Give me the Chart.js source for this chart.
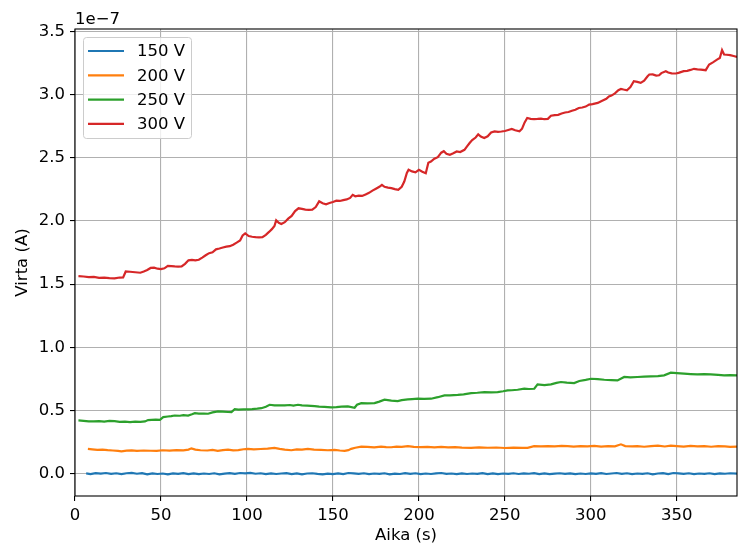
<!DOCTYPE html>
<html>
<head>
<meta charset="utf-8">
<title>Virta ajan funktiona</title>
<script src="https://cdn.jsdelivr.net/npm/chart.js@4.4.1/dist/chart.umd.min.js"></script>
<style>
  html, body { margin: 0; padding: 0; background: #fff; }
</style>
</head>
<body>
<canvas id="virta-chart" width="738" height="548"></canvas>
<script>
(function () {
  'use strict';

  // Mittaukset: aika (s) ja virta yksikössä 1e-7 A
  var aika150 = [
    6.5, 9, 12, 15, 18, 21, 24, 27, 30, 33,
    36, 39, 42, 45, 48, 51, 54, 57, 60, 63,
    66, 69, 72, 75, 78, 81, 84, 87, 90, 93,
    96, 99, 102, 105, 108, 111, 114, 117, 120, 123,
    126, 129, 132, 135, 138, 141, 144, 147, 150, 153,
    156, 159, 162, 165, 168, 171, 174, 177, 180, 183,
    186, 189, 192, 195, 198, 201, 204, 207, 210, 213,
    216, 219, 222, 225, 228, 231, 234, 237, 240, 243,
    246, 249, 252, 255, 258, 261, 264, 267, 270, 273,
    276, 279, 282, 285, 288, 291, 294, 297, 300, 303,
    306, 309, 312, 315, 318, 321, 324, 327, 330, 333,
    336, 339, 342, 345, 348, 351, 354, 357, 360, 363,
    366, 369, 372, 375, 378, 381, 385
  ];
  var virta150 = [
    0.002, -0.003, 0.004, 0.000, 0.005, -0.002, 0.003, -0.004, 0.003, 0.006,
    -0.001, 0.004, -0.005, 0.002, -0.003, 0.001, -0.006, 0.002, -0.002, 0.004,
    -0.003, 0.002, -0.004, 0.001, -0.003, 0.003, -0.005, 0.000, 0.004, -0.002,
    0.005, 0.002, 0.006, -0.001, 0.003, -0.004, 0.002, -0.003, 0.001, 0.004,
    -0.003, 0.002, -0.005, 0.001, 0.003, -0.002, -0.006, 0.000, -0.004, 0.002,
    -0.003, 0.005, 0.002, -0.002, 0.003, -0.004, 0.001, -0.002, 0.003, -0.005,
    0.000, -0.003, 0.004, -0.002, 0.003, -0.004, 0.001, -0.003, 0.002, 0.005,
    -0.002, 0.001, -0.004, 0.002, -0.003, 0.001, -0.002, 0.004, -0.003, 0.002,
    -0.004, 0.001, -0.002, 0.003, -0.003, 0.002, -0.001, 0.004, -0.003, 0.002,
    -0.004, 0.000, 0.003, -0.002, 0.002, -0.004, 0.001, -0.003, 0.002, -0.002,
    0.004, -0.003, 0.001, 0.005, -0.002, 0.003, -0.004, 0.001, -0.002, 0.003,
    -0.005, 0.001, 0.004, -0.003, 0.005, 0.002, -0.002, 0.003, -0.004, 0.001,
    -0.002, 0.003, -0.004, 0.002, -0.001, 0.003, 0.000
  ];

  var aika200 = [
    7.5, 10, 13, 16, 19, 22, 25, 27, 30, 33,
    36, 40, 44, 47.5, 51, 55, 59, 63, 66, 67.7,
    70, 73, 77, 80, 83, 86, 89, 92, 95, 98,
    100.6, 104, 108, 112, 116, 119, 122, 125.8, 129, 132,
    135.4, 139, 143, 147, 151, 154, 156.8, 159, 160.6, 163,
    166.5, 170, 174, 178, 181, 183.9, 187, 190, 193.6, 197,
    201, 205, 209, 213, 217, 221, 225, 230.4, 235, 240,
    245, 250, 255, 260, 263.2, 267, 271, 275, 279, 283,
    286.5, 290, 294, 298, 302, 306, 310, 314, 317.5, 320,
    324, 327, 331, 335, 339, 343, 346.5, 350, 354, 358,
    362, 366, 370, 374, 378, 381, 385
  ];
  var virta200 = [
    0.196, 0.192, 0.188, 0.190, 0.186, 0.183, 0.180, 0.177, 0.182, 0.184,
    0.180, 0.183, 0.181, 0.180, 0.185, 0.182, 0.186, 0.184, 0.190, 0.200,
    0.190, 0.185, 0.183, 0.188, 0.180, 0.186, 0.190, 0.184, 0.186, 0.193,
    0.196, 0.192, 0.195, 0.198, 0.204, 0.196, 0.190, 0.185, 0.192, 0.190,
    0.196, 0.190, 0.188, 0.185, 0.188, 0.183, 0.180, 0.186, 0.196, 0.205,
    0.214, 0.212, 0.208, 0.213, 0.210, 0.209, 0.214, 0.212, 0.218, 0.212,
    0.210, 0.212, 0.208, 0.211, 0.208, 0.210, 0.206, 0.204, 0.208, 0.205,
    0.207, 0.203, 0.206, 0.204, 0.204, 0.218, 0.216, 0.218, 0.215, 0.220,
    0.217, 0.214, 0.218, 0.215, 0.220, 0.214, 0.218, 0.216, 0.232, 0.218,
    0.216, 0.217, 0.213, 0.218, 0.222, 0.215, 0.222, 0.218, 0.214, 0.219,
    0.216, 0.218, 0.213, 0.217, 0.215, 0.212, 0.214
  ];

  var aika250 = [
    2, 5, 8, 11, 14, 17, 20, 23, 26, 29,
    32, 35, 38, 40.7, 42.5, 44.5, 47, 49.4, 51.3, 54,
    56, 58, 61, 63, 65.8, 68, 69.7, 72, 75, 77.4,
    80, 83.2, 86, 89, 91, 92.9, 95, 98, 100.6, 103,
    106, 108.4, 111, 113.2, 116, 119, 122, 125, 127, 129.7,
    132, 135, 139.4, 142, 145, 149, 152, 155, 158.7, 162.6,
    164, 166.5, 170, 174.2, 177, 180, 184, 187.7, 190, 193.6,
    196, 199.4, 203, 207.1, 211, 214.9, 218, 222.6, 226, 230.4,
    234, 238.1, 242, 245.8, 249, 251.6, 254, 257.4, 261.3, 264,
    267.1, 269, 273, 276.8, 280, 282.6, 286, 290.3, 293.3, 297,
    300.1, 304, 307.8, 312, 315.5, 319.4, 323, 327.1, 331, 334.8,
    339, 342.6, 346.5, 350, 354.2, 358, 361.9, 366, 369.7, 374,
    377.5, 381, 385
  ];
  var virta250 = [
    0.421, 0.418, 0.414, 0.413, 0.416, 0.412, 0.417, 0.415, 0.410, 0.412,
    0.407, 0.411, 0.410, 0.413, 0.424, 0.426, 0.428, 0.426, 0.447, 0.452,
    0.455, 0.460, 0.458, 0.463, 0.460, 0.470, 0.479, 0.475, 0.476, 0.474,
    0.485, 0.492, 0.490, 0.488, 0.487, 0.510, 0.506, 0.508, 0.508, 0.510,
    0.514, 0.518, 0.530, 0.545, 0.540, 0.541, 0.540, 0.543, 0.538, 0.545,
    0.540, 0.538, 0.534, 0.530, 0.528, 0.524, 0.526, 0.530, 0.532, 0.521,
    0.545, 0.558, 0.556, 0.558, 0.570, 0.585, 0.578, 0.574, 0.582, 0.587,
    0.590, 0.593, 0.592, 0.593, 0.605, 0.619, 0.620, 0.624, 0.628, 0.637,
    0.640, 0.645, 0.643, 0.645, 0.652, 0.659, 0.660, 0.664, 0.672, 0.670,
    0.672, 0.706, 0.700, 0.706, 0.718, 0.725, 0.720, 0.717, 0.733, 0.742,
    0.751, 0.748, 0.743, 0.740, 0.738, 0.765, 0.762, 0.765, 0.768, 0.770,
    0.772, 0.778, 0.799, 0.795, 0.791, 0.788, 0.786, 0.787, 0.786, 0.782,
    0.778, 0.780, 0.778
  ];

  var aika300 = [
    2, 5, 8, 11, 14, 17, 20, 23, 26, 28,
    29.5, 32, 35, 38, 40, 42, 44, 46, 48, 50,
    52, 54, 56, 58, 60, 62, 64, 66, 68, 70,
    72, 74, 76, 78, 80, 82, 84, 86, 88, 90,
    92, 94, 96, 97.5, 99, 101, 103, 105, 107, 109,
    111, 113, 114.5, 116, 117, 118.5, 120, 122, 124, 126,
    128, 130, 132, 134, 136, 138, 140, 142, 144, 146,
    148, 150, 152, 154, 156, 158, 160, 161.5, 163, 165,
    167, 169, 171, 173, 175, 177, 178.5, 180, 182, 184,
    186, 188, 190, 191.5, 193, 194, 196, 198, 200, 202,
    204, 205.5, 207, 209, 211, 213, 214.5, 216, 218, 220,
    222, 224, 226.5, 228, 229.5, 231, 233, 234.5, 236, 238,
    240, 242, 244, 246, 248, 250, 252, 254, 256, 258.5,
    260, 261.5, 263, 265, 267, 269, 271, 273, 275, 276.8,
    279, 281, 283, 285, 287, 289, 291, 293, 295, 297,
    299, 301, 304, 306, 309, 310.5, 312, 314, 316, 317.5,
    319, 321, 323, 325, 327, 329, 331, 333, 334, 336,
    338, 339.7, 341, 343.6, 345, 347, 349.4, 351, 354, 356,
    358, 360, 362, 364, 366.8, 368.8, 371, 373.6, 375, 376.3,
    377.5, 379, 381, 383, 385
  ];
  var virta300 = [
    1.563, 1.560, 1.555, 1.557, 1.550, 1.552, 1.547, 1.545, 1.552, 1.553,
    1.600, 1.598, 1.594, 1.590, 1.600, 1.612, 1.628, 1.630, 1.622, 1.619,
    1.625, 1.645, 1.643, 1.640, 1.638, 1.640, 1.660, 1.688, 1.692, 1.688,
    1.693, 1.710, 1.728, 1.745, 1.752, 1.775, 1.782, 1.790, 1.796, 1.800,
    1.812, 1.828, 1.845, 1.885, 1.902, 1.880, 1.875, 1.872, 1.870, 1.872,
    1.890, 1.915, 1.935, 1.960, 2.005, 1.985, 1.976, 1.990, 2.018, 2.040,
    2.078, 2.100, 2.095, 2.090, 2.088, 2.090, 2.110, 2.155, 2.140, 2.132,
    2.142, 2.150, 2.160, 2.158, 2.165, 2.170, 2.182, 2.206, 2.195, 2.200,
    2.198, 2.210, 2.222, 2.240, 2.255, 2.270, 2.286, 2.270, 2.264, 2.260,
    2.252, 2.246, 2.270, 2.312, 2.380, 2.405, 2.392, 2.385, 2.405, 2.390,
    2.378, 2.460, 2.470, 2.492, 2.505, 2.540, 2.552, 2.532, 2.524, 2.535,
    2.550, 2.545, 2.563, 2.590, 2.617, 2.640, 2.660, 2.685, 2.668, 2.656,
    2.670, 2.700, 2.709, 2.705, 2.708, 2.712, 2.720, 2.728, 2.718, 2.709,
    2.730, 2.780, 2.815, 2.808, 2.805, 2.807, 2.810, 2.805, 2.808, 2.833,
    2.838, 2.840, 2.850, 2.858, 2.862, 2.872, 2.880, 2.894, 2.898, 2.905,
    2.921, 2.925, 2.934, 2.948, 2.966, 2.985, 2.992, 3.010, 3.035, 3.045,
    3.040, 3.034, 3.060, 3.106, 3.100, 3.093, 3.110, 3.145, 3.159, 3.160,
    3.150, 3.153, 3.170, 3.185, 3.175, 3.168, 3.167, 3.172, 3.185, 3.188,
    3.195, 3.204, 3.200, 3.198, 3.193, 3.238, 3.255, 3.278, 3.290, 3.352,
    3.317, 3.315, 3.312, 3.305, 3.298
  ];

  var sarjat = ['150 V', '200 V', '250 V', '300 V'];
  var varit = ['#1f77b4', '#ff7f0e', '#2ca02c', '#d62728'];
  var xTicks = [0, 50, 100, 150, 200, 250, 300, 350];
  var yTicks = [0.0, 0.5, 1.0, 1.5, 2.0, 2.5, 3.0, 3.5];

  var FONT = 'DejaVu Sans';
  var FONT_SIZE = 16.5;

  function pisteet(aika, virta) {
    return aika.map(function (t, i) { return { x: t, y: virta[i] }; });
  }

  var mittaukset = [
    pisteet(aika150, virta150),
    pisteet(aika200, virta200),
    pisteet(aika250, virta250),
    pisteet(aika300, virta300)
  ];

  // akselien kehys, kerroinmerkintä ja selite kuvaajan päälle
  var kehys = {
    id: 'kehys',
    afterDraw: function (chart) {
      var ctx = chart.ctx;
      var a = chart.chartArea;
      ctx.save();
      ctx.strokeStyle = '#000';
      ctx.lineWidth = 1.1;
      ctx.strokeRect(a.left, a.top, a.right - a.left, a.bottom - a.top);

      ctx.fillStyle = '#000';
      ctx.font = FONT_SIZE + 'px "' + FONT + '"';
      ctx.textAlign = 'left';
      ctx.textBaseline = 'alphabetic';
      ctx.fillText('1e\u22127', a.left, a.top - 5);

      // selite
      var bx = 83, by = 37, bw = 108, bh = 101;
      ctx.beginPath();
      ctx.roundRect(bx + 0.5, by + 0.5, bw, bh, 3);
      ctx.fillStyle = 'rgba(255,255,255,0.8)';
      ctx.fill();
      ctx.strokeStyle = '#cccccc';
      ctx.lineWidth = 1;
      ctx.stroke();

      ctx.textBaseline = 'middle';
      chart.data.datasets.forEach(function (ds, i) {
        var y = by + 14 + i * 24.3;
        ctx.strokeStyle = ds.borderColor;
        ctx.lineWidth = 2.2;
        ctx.beginPath();
        ctx.moveTo(bx + 5, y);
        ctx.lineTo(bx + 41, y);
        ctx.stroke();
        ctx.fillStyle = '#000';
        ctx.fillText(ds.label, bx + 54, y + 1);
      });
      ctx.restore();
    }
  };

  var tickFont = { family: FONT, size: FONT_SIZE };

  new Chart(document.getElementById('virta-chart'), {
    type: 'line',
    data: {
      datasets: mittaukset.map(function (data, i) {
        return {
          label: sarjat[i],
          data: data,
          borderColor: varit[i],
          backgroundColor: varit[i],
          borderWidth: 2.2,
          pointRadius: 0,
          tension: 0,
          fill: false
        };
      })
    },
    options: {
      responsive: false,
      animation: false,
      layout: { padding: { top: 29, right: 1, left: 0, bottom: 0 } },
      plugins: {
        legend: { display: false },
        tooltip: { enabled: false }
      },
      scales: {
        x: {
          type: 'linear',
          min: 0,
          max: 385,
          afterBuildTicks: function (s) { s.ticks = xTicks.map(function (v) { return { value: v }; }); },
          afterFit: function (s) { s.height = 52; },
          ticks: { color: '#000', font: tickFont, padding: 5, maxRotation: 0, autoSkip: false },
          grid: { color: '#b0b0b0', lineWidth: 1.1, tickLength: 5, tickColor: '#000' },
          border: { display: false },
          title: { display: true, text: 'Aika (s)', color: '#000', font: tickFont, padding: { top: 0, bottom: 2 } }
        },
        y: {
          type: 'linear',
          min: -0.177,
          max: 3.519,
          afterBuildTicks: function (s) { s.ticks = yTicks.map(function (v) { return { value: v }; }); },
          afterFit: function (s) { s.width = 75; },
          ticks: {
            color: '#000', font: tickFont, padding: 5, autoSkip: false,
            callback: function (v) { return Number(v).toFixed(1); }
          },
          grid: { color: '#b0b0b0', lineWidth: 1.1, tickLength: 5, tickColor: '#000' },
          border: { display: false },
          title: { display: true, text: 'Virta (A)', color: '#000', font: tickFont, padding: { top: 13, bottom: 0 } }
        }
      }
    },
    plugins: [kehys]
  });
})();
</script>
</body>
</html>
